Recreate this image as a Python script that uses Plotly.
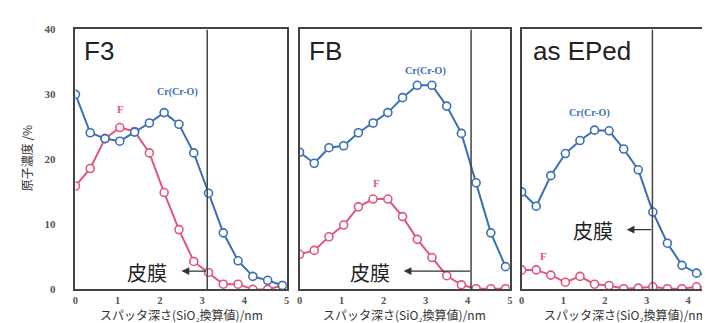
import plotly.graph_objects as go

depth = [0, 0.35, 0.70, 1.05, 1.40, 1.75, 2.10, 2.45, 2.80, 3.15, 3.50, 3.85, 4.20, 4.55, 4.90]

f3_cr = [30.0, 24.1, 23.2, 22.8, 24.2, 25.6, 27.2, 25.4, 21.0, 14.8, 8.7, 4.4, 2.0, 1.4, 0.6]
f3_f = [15.9, 18.6, 23.2, 24.9, 24.3, 21.0, 14.9, 9.2, 4.3, 2.6, 0.8, 0.8, 0.0, 0.0, 0.6]

fb_cr = [21.1, 19.4, 21.8, 22.1, 24.1, 25.6, 27.2, 29.5, 31.4, 31.4, 28.2, 24.0, 16.4, 8.7, 3.5]
fb_f = [5.4, 6.0, 8.1, 9.9, 12.7, 13.9, 13.9, 11.2, 7.7, 4.9, 2.1, 0.7, 0.1, 0.1, 0.1]

ep_cr = [15.0, 12.8, 17.5, 20.9, 22.9, 24.5, 24.4, 21.6, 18.4, 11.9, 7.1, 3.7, 2.5, 2.0, 1.2]
ep_f = [3.0, 3.0, 2.2, 1.1, 2.0, 0.8, 0.6, 0.1, 0.2, 0.4, 0.1, 0.1, 0.4, 0.1, 0.3]

panel_names = ["F3", "FB", "as EPed"]
film_depth = [3.12, 4.08, 3.14]
x_ticks = [0, 1, 2, 3, 4, 5]
y_ticks = [0, 10, 20, 30, 40]
y_title = "原子濃度 /%"
x_title = "スパッタ深さ(SiO₂換算値)/nm"

cr_color = "#3a6fb5"
f_color = "#e0567a"
box_color = "#444444"

px_w, px_h = 710, 323

def fx(p):
    return p / px_w

def fy(p):
    return 1 - p / px_h

# plot areas in pixels
panels = [
    dict(x0=65, x1=278, xmax=5.0),
    dict(x0=291, x1=503, xmax=5.0),
    dict(x0=515, x1=710, xmax=(710 - 515) / 42.0),
]
y_top, y_bot = 16, 286

series = [(f3_cr, f3_f), (fb_cr, fb_f), (ep_cr, ep_f)]
cr_label_pos = [(2.42, 30.4), (3.0, 33.6), (1.62, 27.2)]
f_label_pos = [(1.06, 27.8), (1.82, 16.3), (0.52, 5.2)]
name_pos = [(89, 38), (317, 38), (576, 38)]
film_text_pos = [(137, 268), (362, 268), (587, 225)]
arrow_y = [267, 267, 224]
arrow_len = [26, 68, 26]

fig = go.Figure()
annotations = []
shapes = []
layout = {}

for i, (p, (cr, ff)) in enumerate(zip(panels, series)):
    n = "" if i == 0 else str(i + 1)
    xa = "x" + n
    ya = "y" + n
    fig.add_trace(go.Scatter(x=depth, y=ff, xaxis=xa, yaxis=ya, mode="lines+markers",
                             line=dict(color=f_color, width=2),
                             marker=dict(symbol="circle", size=8, color="white",
                                         line=dict(color=f_color, width=1.6)),
                             showlegend=False, cliponaxis=True))
    fig.add_trace(go.Scatter(x=depth, y=cr, xaxis=xa, yaxis=ya, mode="lines+markers",
                             line=dict(color=cr_color, width=2),
                             marker=dict(symbol="circle", size=8, color="white",
                                         line=dict(color=cr_color, width=1.6)),
                             showlegend=False, cliponaxis=True))
    layout["xaxis" + n] = dict(
        domain=[fx(p["x0"]), fx(p["x1"])], range=[0, p["xmax"]], anchor=ya,
        tickvals=x_ticks, ticks="", showgrid=False, zeroline=False,
        showline=True, linecolor=box_color, linewidth=1.5, mirror=True,
        ticklabelstandoff=0,
        tickfont=dict(family="Liberation Serif", size=10.5, color="#555555", weight="bold"),
    )
    layout["yaxis" + n] = dict(
        domain=[fy(y_bot), fy(y_top)], range=[0, 40], anchor=xa,
        tickvals=y_ticks, ticks="", showgrid=False, zeroline=False,
        showticklabels=(i == 0), ticklabelstandoff=16,
        showline=True, linecolor=box_color, linewidth=1.5, mirror=(i != 2),
        tickfont=dict(family="Liberation Serif", size=11, color="#555555", weight="bold"),
    )
    # film boundary line
    shapes.append(dict(type="line", xref=xa, yref=ya, x0=film_depth[i], x1=film_depth[i],
                       y0=0, y1=40, line=dict(color=box_color, width=1.5), layer="above"))
    # series labels
    annotations.append(dict(xref=xa, yref=ya, x=cr_label_pos[i][0], y=cr_label_pos[i][1],
                            text="Cr(Cr-O)", showarrow=False,
                            font=dict(family="Liberation Serif", size=10, color=cr_color, weight="bold")))
    annotations.append(dict(xref=xa, yref=ya, x=f_label_pos[i][0], y=f_label_pos[i][1],
                            text="F", showarrow=False,
                            font=dict(family="Liberation Serif", size=11, color=f_color, weight="bold")))
    # panel name
    annotations.append(dict(xref="paper", yref="paper", x=fx(name_pos[i][0]), y=fy(name_pos[i][1]),
                            text=panel_names[i], showarrow=False, xanchor="center", yanchor="middle",
                            font=dict(family="Liberation Sans", size=26, color="#222222")))
    # film label
    annotations.append(dict(xref="paper", yref="paper", x=fx(film_text_pos[i][0]), y=fy(film_text_pos[i][1]),
                            text="皮膜", showarrow=False, xanchor="center", yanchor="middle",
                            font=dict(family="Noto Sans CJK JP", size=20, color="#222222")))
    # arrow from boundary pointing left
    bx = p["x0"] + film_depth[i] * (p["x1"] - p["x0"]) / p["xmax"]
    annotations.append(dict(xref="paper", yref="paper",
                            x=fx(bx - arrow_len[i]), y=fy(arrow_y[i]),
                            ax=arrow_len[i], ay=0, axref="pixel", ayref="pixel",
                            text="", showarrow=True, arrowhead=2, arrowsize=1.2, arrowwidth=1.3,
                            arrowcolor="#333333"))
    # x title
    cx = (p["x0"] + p["x0"] + 5 * (p["x1"] - p["x0"]) / p["xmax"]) / 2
    annotations.append(dict(xref="paper", yref="paper", x=fx(cx), y=0, yshift=0,
                            text=x_title, showarrow=False, xanchor="center", yanchor="bottom",
                            font=dict(family="Noto Sans CJK JP", size=12, color="#333333")))

annotations.append(dict(xref="paper", yref="paper", x=fx(16), y=fy(150), text=y_title,
                        showarrow=False, textangle=-90, xanchor="center", yanchor="middle",
                        font=dict(family="Noto Sans CJK JP", size=12, color="#333333")))

fig.update_layout(
    width=px_w, height=px_h, margin=dict(l=0, r=0, t=0, b=0),
    paper_bgcolor="white", plot_bgcolor="white",
    annotations=annotations, shapes=shapes, **layout,
)

fig.write_html("out.html")
